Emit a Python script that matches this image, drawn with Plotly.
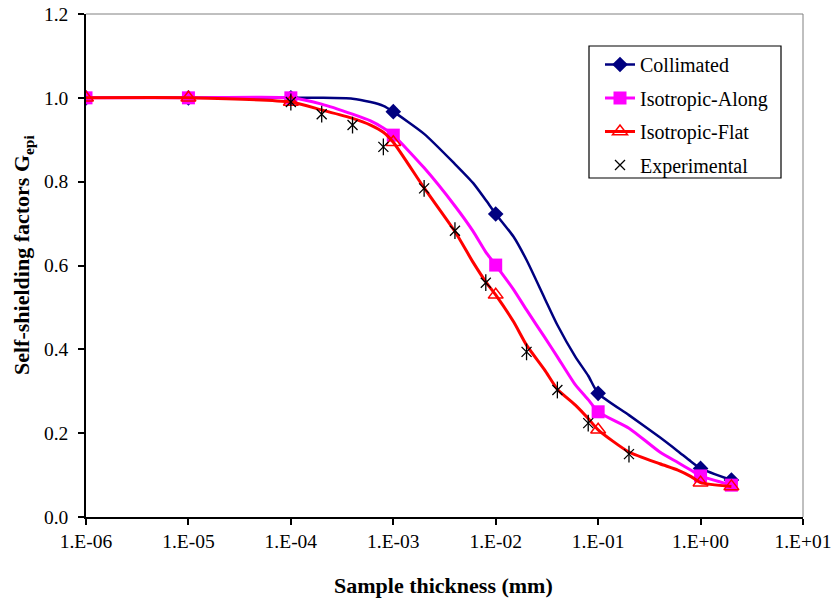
import plotly.graph_objects as go

# ---- data ----
x_calc = [1e-6, 1e-5, 1e-4, 2e-4, 4e-4, 6e-4, 8e-4, 1e-3, 2e-3, 4e-3, 6e-3, 8e-3,
          1e-2, 1.5e-2, 2e-2, 3e-2, 4e-2, 6e-2, 8e-2, 1e-1, 2e-1, 4e-1, 6e-1, 8e-1, 1.0, 2.0]
collimated_line = [1.0, 1.0, 1.0, 1.0, 0.998, 0.99, 0.981, 0.967, 0.914, 0.842, 0.797, 0.756,
                   0.723, 0.668, 0.613, 0.522, 0.458, 0.382, 0.337, 0.295, 0.243, 0.19, 0.157, 0.133, 0.116, 0.088]
along_line = [1.0, 1.0, 1.0, 0.985, 0.961, 0.945, 0.928, 0.911, 0.833, 0.742, 0.682, 0.632,
              0.601, 0.542, 0.494, 0.429, 0.382, 0.315, 0.28, 0.251, 0.212, 0.155, 0.13, 0.112, 0.098, 0.076]
flat_line = [1.0, 1.0, 0.99, 0.971, 0.951, 0.935, 0.918, 0.894, 0.785, 0.681, 0.608, 0.561,
             0.530, 0.465, 0.41, 0.351, 0.305, 0.267, 0.235, 0.208, 0.155, 0.127, 0.112, 0.097, 0.082, 0.073]

x_mark = [1e-6, 1e-5, 1e-4, 1e-3, 1e-2, 1e-1, 1.0, 2.0]
collimated_mark = [1.0, 1.0, 1.0, 0.967, 0.723, 0.295, 0.116, 0.088]
along_mark = [1.0, 1.0, 1.0, 0.911, 0.601, 0.251, 0.098, 0.076]
flat_mark = [1.0, 1.0, 0.99, 0.894, 0.530, 0.208, 0.082, 0.073]

exp_x = [1e-4, 2e-4, 4e-4, 8e-4, 2e-3, 4e-3, 8e-3, 2e-2, 4e-2, 8e-2, 2e-1]
exp_y = [0.99, 0.961, 0.935, 0.883, 0.784, 0.683, 0.559, 0.394, 0.303, 0.224, 0.150]

x_tickvals = [1e-6, 1e-5, 1e-4, 1e-3, 1e-2, 1e-1, 1.0, 10.0]
x_ticktext = ["1.E-06", "1.E-05", "1.E-04", "1.E-03", "1.E-02", "1.E-01", "1.E+00", "1.E+01"]
y_tickvals = [0.0, 0.2, 0.4, 0.6, 0.8, 1.0, 1.2]

x_title = "Sample thickness (mm)"
y_title = "Self-shielding factors G<sub>epi</sub>"

series = [
    ("Collimated", collimated_line, collimated_mark, "#000080", 2.5,
     dict(symbol="diamond", size=12, color="#000080")),
    ("Isotropic-Along", along_line, along_mark, "#FF00FF", 3,
     dict(symbol="square", size=13, color="#FF00FF")),
    ("Isotropic-Flat", flat_line, flat_mark, "#FF0000", 3,
     dict(symbol="triangle-up-open", size=13, color="#FF0000", line=dict(width=1.5, color="#FF0000"))),
]

FONT = "Liberation Serif, Times New Roman, serif"
fig = go.Figure()

for name, yl, ym, col, lw, mk in series:
    fig.add_trace(go.Scatter(x=x_calc, y=yl, mode="lines",
                             line=dict(color=col, width=lw, shape="spline", smoothing=0.6),
                             showlegend=False, legendgroup=name, hoverinfo="skip"))
    fig.add_trace(go.Scatter(x=x_mark, y=ym, mode="markers", marker=mk, showlegend=False, legendgroup=name))
    fig.add_trace(go.Scatter(x=[None], y=[None], mode="lines+markers", name=name, legendgroup=name,
                             line=dict(color=col, width=lw), marker=mk))

fig.add_trace(go.Scatter(x=exp_x, y=exp_y, mode="markers", showlegend=False, legendgroup="Experimental",
                         marker=dict(symbol="line-ns-open", size=12, color="black",
                                     line=dict(width=1.3, color="black"))))
fig.add_trace(go.Scatter(x=exp_x, y=exp_y, mode="markers", name="Experimental", legendgroup="Experimental",
                         marker=dict(symbol="x-thin-open", size=10, color="black",
                                     line=dict(width=1.3, color="black"))))

PW, PL, PT, PB = 717, 86, 14, 517  # plot box in page pixels (width, left, top, bottom)
def px(x):
    return (x - PL) / PW
def py(y):
    return (PB - y) / (PB - PT)

fig.update_layout(
    width=833, height=602,
    margin=dict(l=86, r=30, t=14, b=85),
    paper_bgcolor="white", plot_bgcolor="white",
    font=dict(family=FONT, size=19, color="black"),
    legend=dict(x=px(600), y=py(45), xanchor="left", yanchor="top",
                borderwidth=0, bgcolor="rgba(0,0,0,0)",
                font=dict(family=FONT, size=20, color="black"),
                tracegroupgap=4.5),
    shapes=[
        dict(type="line", xref="paper", yref="paper", x0=0, x1=1, y0=1, y1=1, line=dict(color="#808080", width=1)),
        dict(type="line", xref="paper", yref="paper", x0=1, x1=1, y0=0, y1=1, line=dict(color="#808080", width=1)),
        dict(type="rect", xref="paper", yref="paper", x0=px(589), x1=px(781), y0=py(178), y1=py(46),
             line=dict(color="black", width=1.2), fillcolor="white", layer="above"),
    ],
    annotations=[
        dict(text="<b>" + x_title + "</b>", xref="paper", yref="paper",
             x=px(443.5), y=py(585), xanchor="center", yanchor="middle",
             showarrow=False, font=dict(family=FONT, size=22, color="black")),
        dict(text="<b>" + y_title + "</b>", xref="paper", yref="paper", textangle=-90,
             x=px(23), y=py(255), xanchor="center", yanchor="middle",
             showarrow=False, font=dict(family=FONT, size=22, color="black")),
    ],
)

fig.update_xaxes(type="log", range=[-6, 1], tickvals=x_tickvals, ticktext=x_ticktext, automargin=False,
                 showgrid=False, zeroline=False, showline=True, linecolor="black", linewidth=1.5,
                 ticks="outside", ticklen=6, tickcolor="black", tickwidth=1.5,
                 tickfont=dict(family=FONT, size=19.5, color="black"))
fig.update_yaxes(range=[0, 1.2], tickvals=y_tickvals, tickformat=".1f", automargin=False,
                 showgrid=False, zeroline=False, showline=True, linecolor="black", linewidth=1.5,
                 ticks="outside", ticklen=6, tickcolor="black", tickwidth=1.5, ticklabelstandoff=6,
                 tickfont=dict(family=FONT, size=19.5, color="black"))

# remove the browser's default 8 px body margin so the figure fills the window exactly
fig.write_html("out.html", config={"displayModeBar": False},
               post_script="document.body.style.margin='0';document.body.style.overflow='hidden';")
